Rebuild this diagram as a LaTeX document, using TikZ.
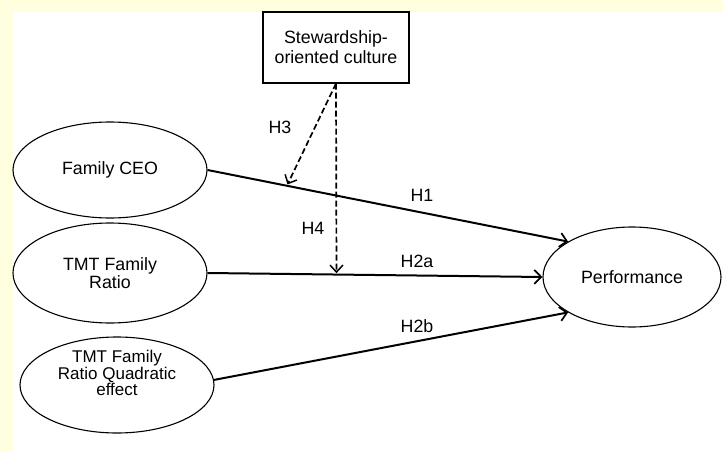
\documentclass[tikz,border=0pt]{standalone}
\usepackage{fontspec}
\setmainfont{Liberation Sans}
\usetikzlibrary{shapes.geometric,arrows.meta}
\definecolor{bgyellow}{HTML}{FFFFE0}
\tikzset{
  var/.style={draw,ellipse,line width=1.1pt,minimum width=194pt,minimum height=96pt,align=center,inner sep=0pt},
  hyp/.style={line width=2pt,-{Straight Barb[length=7pt,width=14pt,line width=1.7pt]}},
  modr/.style={line width=1.7pt,dash pattern=on 6pt off 3pt,-{Straight Barb[length=7pt,width=13pt,line width=1.5pt,sep]}}
}
\begin{document}
\begin{tikzpicture}[x=1pt,y=-1pt,font=\fontsize{17.8}{18}\selectfont]
\useasboundingbox (0,0) rectangle (723,452);
\fill[bgyellow] (0,0) rectangle (723,452);
\fill[white] (13,12) rectangle (723,452);

\node[draw,line width=1.1pt,minimum width=146pt,minimum height=71pt,align=center,font=\fontsize{17.8}{20}\selectfont] (stew) at (336,47.5) {Stewardship-\\oriented culture};
\node[var] (fceo) at (110,170) {Family CEO};
\node[var,minimum height=100pt] (tmt) at (110,273) {TMT Family\\Ratio};
\node[var] (quad) at (117,385) {};
\node[align=center,font=\fontsize{17}{16.5}\selectfont] (quadtxt) at (117,373) {TMT Family\\Ratio Quadratic\\effect};
\node[var,minimum width=178pt,minimum height=100pt] (perf) at (632,277) {Performance};

\draw[hyp] (fceo.east) -- (perf.151) coordinate[pos=.22] (h3end);
\draw[hyp] (tmt.east) -- (perf.west) coordinate[pos=.385] (h4end);
\draw[hyp] (quad.3) -- (perf.209);
\draw[modr] (stew.south) -- (h3end);
\draw[modr] (stew.south) -- (h4end);

\foreach \nm/\x/\y/\txt in {h1/422/195/H1, h2a/417/261/H2a, h2b/417/326/H2b, h3/280/127/H3, h4/313/228/H4}
{
    \node (l\nm) at (\x,\y) {\txt};
}
\end{tikzpicture}
\end{document}
